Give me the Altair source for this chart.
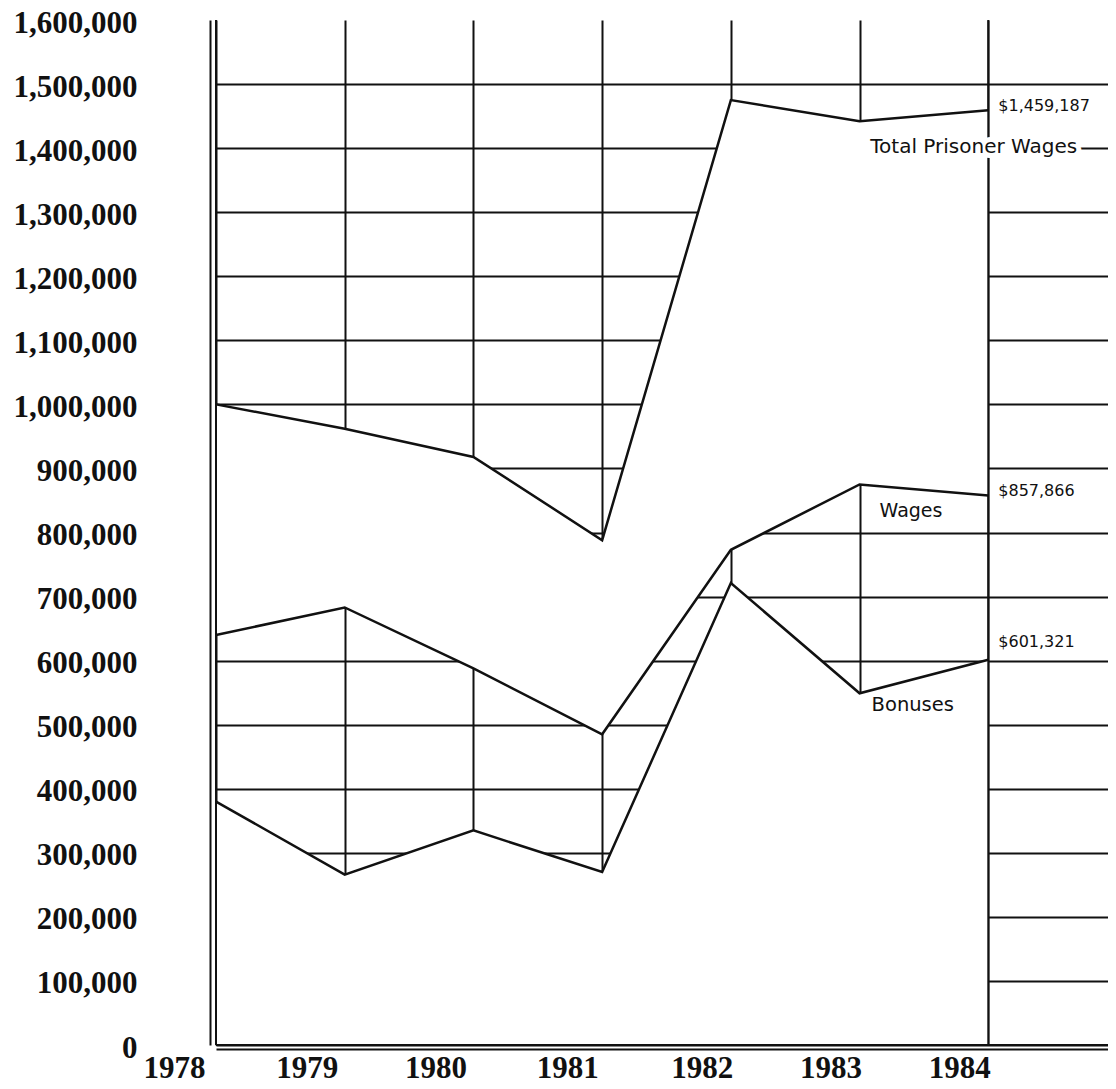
import altair as alt
import pandas as pd

# ---- data ----
years = [1978, 1979, 1980, 1981, 1982, 1983, 1984]
total_wages = [1000000, 962000, 918000, 788000, 1475000, 1442000, 1459187]
wages = [640000, 683000, 588000, 485000, 773000, 875000, 857866]
bonuses = [380000, 266000, 335000, 270000, 721000, 549000, 601321]

y_ticks = list(range(0, 1600001, 100000))
x_ticks = years

end_labels = ["$1,459,187", "$857,866", "$601,321"]
series_names = ["Total Prisoner Wages", "Wages", "Bonuses"]

df = pd.DataFrame({"year": years, "total": total_wages, "wages": wages, "bonuses": bonuses})
long = pd.concat([
    pd.DataFrame({"year": years, "value": total_wages, "series": "total"}),
    pd.DataFrame({"year": years, "value": wages, "series": "wages"}),
    pd.DataFrame({"year": years, "value": bonuses, "series": "bonuses"}),
])

INK = "#111111"
W, H = 892, 1025

xscale = alt.Scale(domain=[1978, 1984.93], nice=False, zero=False)
yscale = alt.Scale(domain=[0, 1600000], nice=False)

x_axis = alt.Axis(
    values=x_ticks, format="d", title=None, grid=True, gridColor=INK, gridWidth=2,
    ticks=False, tickSize=0, domain=True, domainColor=INK, domainWidth=2, offset=4,
    labelFont="Liberation Serif", labelFontWeight="bold", labelFontSize=31, labelColor=INK,
    labelAlign="right", labelBaseline="alphabetic", labelPadding=28, labelFlush=False,
    labelOverlap=False,
    labelOffset={
        "condition": [
            {"test": "datum.value == 1978", "value": -11},
            {"test": "datum.value <= 1980", "value": -7},
            {"test": "datum.value == 1981", "value": -4},
        ],
        "value": 2,
    },
)
y_axis = alt.Axis(
    values=y_ticks, format=",d", title=None, grid=True, gridColor=INK, gridWidth=2,
    gridOpacity={"condition": {"test": "datum.value >= 1600000", "value": 0}, "value": 1},
    ticks=False, tickSize=0, domain=True, domainColor=INK, domainWidth=2, offset=6,
    labelFont="Liberation Serif", labelFontWeight="bold", labelFontSize=31, labelColor=INK,
    labelAlign="right", labelBaseline="middle", labelPadding=73, labelFlush=False,
    labelOverlap=False, labelOffset=3,
)

base = alt.Chart(df)

# white regions that hide the grid (between total & wages, and below bonuses)
mask_top = base.mark_area(color="white", opacity=1).encode(
    x=alt.X("year:Q", scale=xscale, axis=x_axis),
    y=alt.Y("total:Q", scale=yscale, axis=y_axis),
    y2="wages:Q",
)
mask_bottom = base.mark_area(color="white", opacity=1).encode(
    x=alt.X("year:Q", scale=xscale),
    y=alt.Y("bonuses:Q", scale=yscale),
    y2=alt.datum(0),
)

# full-height verticals at first and last year, and the zero line
edge_years = pd.DataFrame({"year": [years[0], years[-1]]})
verticals = alt.Chart(edge_years).mark_rule(color=INK, strokeWidth=2).encode(
    x=alt.X("year:Q", scale=xscale)
)
zero_line = alt.Chart(pd.DataFrame({"v": [y_ticks[0]]})).mark_rule(color=INK, strokeWidth=2).encode(
    y=alt.Y("v:Q", scale=yscale)
)

# series lines
lines = alt.Chart(long).mark_line(color=INK, strokeWidth=2.5, strokeJoin="miter").encode(
    x=alt.X("year:Q", scale=xscale),
    y=alt.Y("value:Q", scale=yscale),
    detail="series:N",
)


def end_label(i, value, dy):
    d = pd.DataFrame({"year": [years[-1]], "value": [value], "label": [end_labels[i]]})
    return alt.Chart(d).mark_text(
        align="left", baseline="middle", font="DejaVu Sans", fontSize=16, color=INK, dx=10, dy=dy
    ).encode(x=alt.X("year:Q", scale=xscale), y=alt.Y("value:Q", scale=yscale), text="label:N")


lab_total = end_label(0, total_wages[-1], -4)
lab_wages = end_label(1, wages[-1], -4)
lab_bonus = end_label(2, bonuses[-1], -18)

total_lab = pd.DataFrame({"year": [years[-1]], "value": [total_wages[-1]], "label": [series_names[0]]})
total_halo = alt.Chart(total_lab).mark_text(
    align="left", baseline="middle", font="DejaVu Sans", fontSize=20, color="white",
    stroke="white", strokeWidth=10, dx=-118, dy=37
).encode(x=alt.X("year:Q", scale=xscale), y=alt.Y("value:Q", scale=yscale), text="label:N")
total_text = alt.Chart(total_lab).mark_text(
    align="left", baseline="middle", font="DejaVu Sans", fontSize=20, color=INK, dx=-118, dy=37
).encode(x=alt.X("year:Q", scale=xscale), y=alt.Y("value:Q", scale=yscale), text="label:N")

wages_lab = pd.DataFrame({"year": [years[-2]], "value": [wages[-2]], "label": [series_names[1]]})
bonus_lab = pd.DataFrame({"year": [years[-2]], "value": [bonuses[-2]], "label": [series_names[2]]})
wages_text = alt.Chart(wages_lab).mark_text(
    align="left", baseline="middle", font="DejaVu Sans", fontSize=19, color=INK, dx=20, dy=27
).encode(x=alt.X("year:Q", scale=xscale), y=alt.Y("value:Q", scale=yscale), text="label:N")
bonus_text = alt.Chart(bonus_lab).mark_text(
    align="left", baseline="middle", font="DejaVu Sans", fontSize=19.5, color=INK, dx=12, dy=12
).encode(x=alt.X("year:Q", scale=xscale), y=alt.Y("value:Q", scale=yscale), text="label:N")

chart = alt.layer(
    mask_top, mask_bottom, verticals, zero_line, total_halo, lines,
    lab_total, lab_wages, lab_bonus, total_text, wages_text, bonus_text,
).properties(
    width=W, height=H,
    autosize=alt.AutoSizeParams(type="none"),
    padding={"left": 208, "top": 12, "right": 0, "bottom": 44},
    background="white",
).configure_view(stroke=None)

chart.save("out.html", embed_options={"renderer": "svg", "actions": False})
